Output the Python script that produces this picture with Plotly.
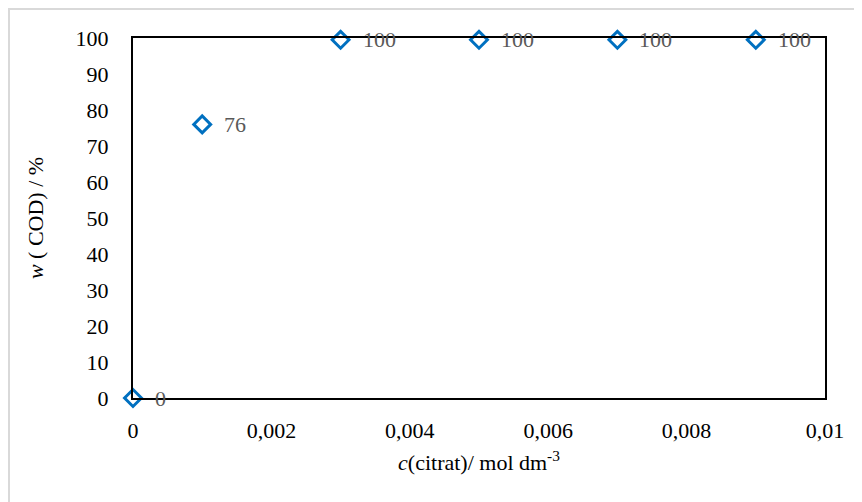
import plotly.graph_objects as go

conc = [0, 0.001, 0.003, 0.005, 0.007, 0.009]
w_cod = [0, 76, 99.5, 99.5, 99.5, 99.5]

x_ticks = [0, 0.002, 0.004, 0.006, 0.008, 0.01]
x_labels = ["0", "0,002", "0,004", "0,006", "0,008", "0,01"]

OFF = 8  # page body margin
W, H = 862 - OFF, 502 - OFF
L, R, T, B = 133 - OFF, 37, 38 - OFF, 104
pw, ph = W - L - R, H - T - B

fig = go.Figure()
fig.add_trace(go.Scatter(
    x=conc, y=w_cod, mode="markers",
    marker=dict(symbol="diamond-open", size=13, color="#0070C0",
                line=dict(width=3, color="#0070C0")),
    cliponaxis=False,
    showlegend=False,
))

lab_font = dict(family="Liberation Serif", size=22, color="#595959")
annotations = [dict(x=xv, y=yv, xref="x", yref="y", text=f"{yv:.0f}",
                    showarrow=False, xanchor="left", yanchor="middle",
                    xshift=20, font=lab_font)
               for xv, yv in zip(conc, w_cod)]

font = dict(family="Liberation Serif", size=22, color="black")

fig.update_layout(
    width=W, height=H,
    margin=dict(l=L, r=R, t=T, b=B),
    paper_bgcolor="white", plot_bgcolor="white",
    separators=", ",
    font=font,
    annotations=annotations,
    xaxis=dict(range=[0, 0.01], tickvals=x_ticks, ticktext=x_labels,
               showgrid=False, zeroline=False, showline=True,
               linecolor="black", linewidth=2, mirror=True,
               ticks="", ticklabelstandoff=12, tickfont=font,
               title=dict(text="<i>c</i>(citrat)/ mol dm<sup>-3</sup>",
                          font=font, standoff=12)),
    yaxis=dict(range=[0, 100], dtick=10,
               showgrid=False, zeroline=False, showline=True,
               linecolor="black", linewidth=2, mirror=True,
               ticks="", ticklabelstandoff=18, tickfont=font,
               title=dict(text="<i>w</i> ( COD) / %", font=font, standoff=26)),
    shapes=[dict(type="rect", xref="paper", yref="paper",
                 x0=(9 - 133) / pw, x1=(W + 20 - L) / pw,
                 y0=-(B + 20) / ph, y1=1 + (38 - 9) / ph,
                 line=dict(color="#D9D9D9", width=2), layer="below")],
)

fig.write_html("out.html")
